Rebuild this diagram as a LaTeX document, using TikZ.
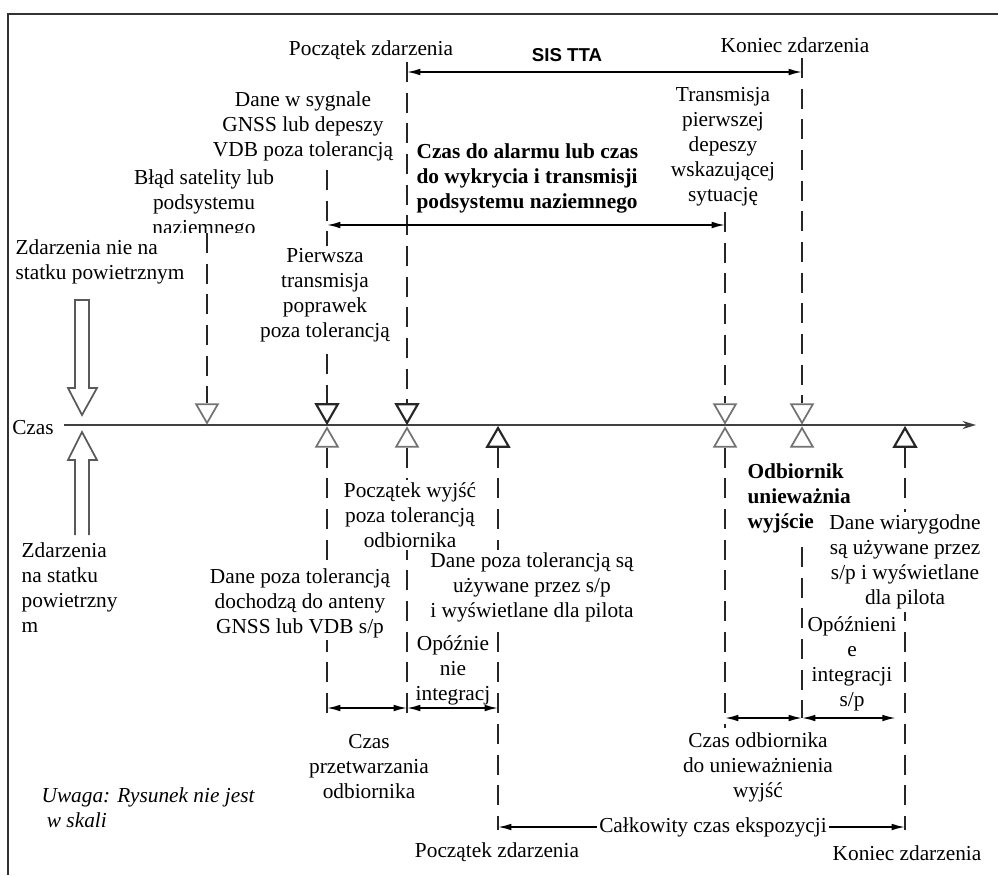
\documentclass[tikz,border=0pt]{standalone}
\usepackage{fontspec}
\setmainfont{Liberation Serif}
\setsansfont{Liberation Sans}
\usetikzlibrary{arrows.meta,shapes.geometric}
\tikzset{
  txt/.style={align=center,inner sep=1pt,font=\fontsize{16}{18.75}\selectfont},
  txtl/.style={txt,align=left},
  boldtxt/.style={font=\fontsize{16}{18.75}\selectfont\bfseries},
  cover/.style={fill=white,inner sep=2pt},
  evline/.style={draw=black!85,line width=1.7pt,dash pattern=on 15pt off 8pt},
  timeaxis/.style={draw=black!75,line width=1.6pt,-{Stealth[length=10pt,width=6pt]}},
  dim/.style={draw=black,line width=1.2pt,{Latex[length=10pt,width=5pt]}-{Latex[length=10pt,width=5pt]}},
  marker/.style={regular polygon,regular polygon sides=3,minimum size=18.75pt,inner sep=0pt,
    draw=black!55,line width=1.3pt,fill=white},
  darkmarker/.style={marker,draw=black!85,line width=1.6pt},
  pointdown/.style={shape border rotate=180},
  bigarrow/.style={draw=black!65,line width=1.3pt,fill=white}
}

\begin{document}
\begin{tikzpicture}[x=0.75pt,y=-0.75pt]
\useasboundingbox (0,0) rectangle (998,875);

% frame
\draw[draw=black!80,line width=2.2pt] (8,875) -- (8,14) -- (998,14);

% =========================================================
% Time axis and event markers
% =========================================================

\node[txt] (czas) at (33,428) {Czas};
\coordinate (t0) at (64,425);
\coordinate (t1) at (976,425);
\draw[timeaxis] (t0) -- (t1);

\foreach \n/\x in {A/207,E/725,F/802}
  \node[marker,pointdown] (d\n) at (\x,410.5) {};
\foreach \n/\x in {B/327,C/407}
  \node[darkmarker,pointdown] (d\n) at (\x,410.5) {};
\foreach \n/\x in {B/327,C/407,E/725,F/802}
  \node[marker] (u\n) at (\x,440.5) {};
\foreach \n/\x in {D/498,G/905}
  \node[darkmarker] (u\n) at (\x,440.5) {};

% ends of the event lines
\coordinate (topA) at (207,233);
\coordinate (topB) at (327,170);
\coordinate (topC) at (407,62);
\coordinate (topE) at (725,212);
\coordinate (topF) at (802,58);
\coordinate (botB) at (327,718);
\coordinate (botC) at (407,723);
\coordinate (botD) at (498,830);
\coordinate (botE) at (725,728);
\coordinate (midF) at (802,547);
\coordinate (botF) at (802,718);
\coordinate (botG) at (905,830);

\foreach \n in {A,B,C,E,F}
  \draw[evline] (top\n) -- (d\n);
\foreach \n in {B,C,D,E,G}
  \draw[evline] (u\n) -- (bot\n);
\draw[evline] (midF) -- (botF);

% =========================================================
% Time intervals
% =========================================================

\coordinate (ySIS) at (0,72);
\coordinate (yAlarm) at (0,225);
\coordinate (yRx) at (0,708);
\coordinate (yInv) at (0,718);
\coordinate (yTot) at (0,827);

\draw[dim] (dC |- ySIS) -- (dF |- ySIS);
\draw[dim] (dB |- yAlarm) -- (dE |- yAlarm);
\draw[dim] (uB |- yRx) -- (uC |- yRx);
\draw[dim] (uC |- yRx) -- (uD |- yRx);
\draw[dim] (uE |- yInv) -- (uF |- yInv);
\draw[dim,shorten >=7pt] (uF |- yInv) -- (uG |- yInv);
\draw[dim] (uD |- yTot) -- (uG |- yTot);

% =========================================================
% Ground events (above the axis)
% =========================================================

\draw[bigarrow] (75,300) -- (89,300) -- (89,388) -- (97,388) -- (82,415) -- (68,388) -- (75,388) -- cycle;
\node[txtl,anchor=west] (ground) at (14,262) {Zdarzenia nie na\\statku powietrznym};

\node[txt] (pzTop) at (371,50) {Początek zdarzenia};
\node[txt] (kzTop) at (795,45) {Koniec zdarzenia};
\node[txt,font=\fontsize{14}{16}\selectfont\sffamily\bfseries] (sis) at (567,55) {SIS TTA};
\node[txt] (sygnal) at (303,126) {Dane w sygnale\\GNSS lub depeszy\\VDB poza tolerancją};
\begin{scope}
  \clip (100,160) rectangle (320,232);
  \node[txt] (blad) at (204,204) {Błąd satelity lub\\podsystemu\\naziemnego};
\end{scope}
\node[txtl,boldtxt,anchor=west] (alarm) at (415,178) {Czas do alarmu lub czas\\do wykrycia i transmisji\\podsystemu naziemnego};
\node[txt,cover] (pierwsza) at (325,295) {Pierwsza\\transmisja\\poprawek\\poza tolerancją};
\node[txt] (transm) at (723,147) {Transmisja\\pierwszej\\depeszy\\wskazującej\\sytuację};

% =========================================================
% Airborne events (below the axis)
% =========================================================

\draw[bigarrow] (75,535) -- (75,460) -- (68,460) -- (82,432) -- (97,460) -- (89,460) -- (89,535);
\node[txtl,anchor=west] (board) at (20,588) {Zdarzenia\\na statku\\powietrzny\\m};

\node[txt,cover] (wyjscia) at (410,515) {Początek wyjść\\poza tolerancją\\odbiornika};
\node[txt,cover] (antena) at (300,603) {Dane poza tolerancją\\dochodzą do anteny\\GNSS lub VDB s/p};
\node[txt,cover] (uzywane) at (532,587) {Dane poza tolerancją są\\używane przez s/p\\i wyświetlane dla pilota};
\node[txtl,boldtxt,anchor=west] (uniewaz) at (746,498) {Odbiornik\\unieważnia\\wyjście};
\node[txt,cover] (wiarygodne) at (905,562) {Dane wiarygodne\\są używane przez\\s/p i wyświetlane\\dla pilota};
\node[txt] (opozn1) at (453,670) {Opóźnie\\nie\\integracj};
\node[txt] (opozn2) at (852,664) {Opóźnieni\\e\\integracji\\s/p};
\node[txt] (przetw) at (369,767) {Czas\\przetwarzania\\odbiornika};
\node[txt] (odbCzas) at (758,767) {Czas odbiornika\\do unieważnienia\\wyjść};
\node[txt,cover] (ekspo) at (713,827) {Całkowity czas ekspozycji};
\node[txt] (pzBot) at (497,852) {Początek zdarzenia};
\node[txt] (kzBot) at (907,853) {Koniec zdarzenia};

\node[txtl,font=\fontsize{16}{18.75}\selectfont\itshape,anchor=west] (uwaga) at (40,808) {Uwaga: Rysunek nie jest\\\hspace*{4pt}w skali};

\end{tikzpicture}
\end{document}
